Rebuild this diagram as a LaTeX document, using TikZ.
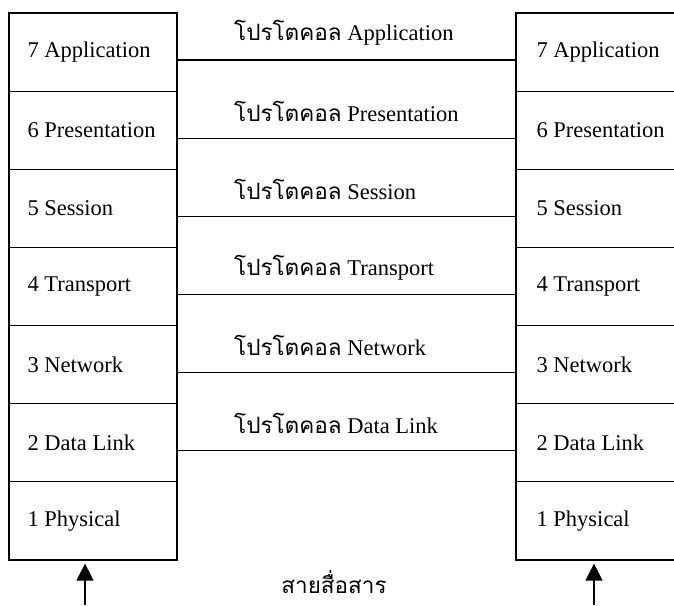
\documentclass[tikz,border=0pt]{standalone}
\usepackage{fontspec}
\setmainfont{Liberation Serif}
\newfontfamily\thaifont[Script=Thai]{Loma}
\usetikzlibrary{arrows.meta}
\begin{document}
\begin{tikzpicture}[x=1pt,y=-1pt,
  layerbox/.style={draw, line width=1.2pt, minimum width=168pt,
    minimum height=78.14pt, inner sep=0pt},
  layertext/.style={font=\fontsize{22.5}{26}\selectfont, anchor=west, inner sep=0pt},
  peer/.style={line width=1.2pt},
  prototext/.style={font=\fontsize{22.5}{26}\selectfont, anchor=west, inner sep=0pt},
  medium/.style={line width=1.2pt, -{Triangle[width=17pt,length=17pt]}}]
\useasboundingbox (0,0) rectangle (674,605);
\clip (0,0) rectangle (674,605);

% the two OSI stacks, layer 7 on top
\foreach \n/\name [count=\k from 0] in
  {7/Application,6/Presentation,5/Session,4/Transport,3/Network,2/Data Link,1/Physical} {
  \node[layerbox] (L\n) at (93,{13+78.14*\k+39.07}) {};
  \node[layerbox] (R\n) at (600,{13+78.14*\k+39.07}) {};
  \node[layertext] (LT\n) at ([xshift=19pt]L\n.west) {\n\ \name};
  \node[layertext] (RT\n) at ([xshift=21pt]R\n.west) {\n\ \name};
}

% peer-to-peer protocols between matching layers
\foreach \n/\name [count=\k from 0] in
  {7/Application,6/Presentation,5/Session,4/Transport,3/Network,2/Data Link} {
  \draw[peer] ([yshift=-8pt]L\n.east) -- ([yshift=-8pt]R\n.west);
  \node[prototext] (P\n) at (234,{13+78.14*\k+39.07-19})
    {{\thaifont โปรโตคอล} \name};
}

% physical medium
\coordinate (srcL) at (85,605);
\coordinate (srcR) at (594,605);
\draw[medium] (srcL) -- ([yshift=-3pt]L1.south -| srcL);
\draw[medium] (srcR) -- ([yshift=-3pt]R1.south -| srcR);
\node[font=\fontsize{22.5}{26}\selectfont] (media) at (334,582) {\thaifont สายสื่อสาร};
\end{tikzpicture}
\end{document}
